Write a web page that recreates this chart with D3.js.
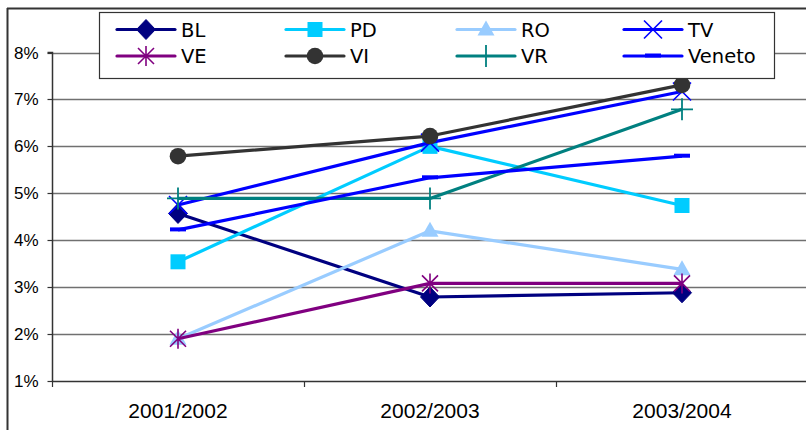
<!DOCTYPE html>
<html>
<head>
<meta charset="utf-8">
<script src="https://cdn.jsdelivr.net/npm/d3@7"></script>
<style>
  html, body { margin: 0; padding: 0; background: #fff; }
  svg { display: block; }
</style>
</head>
<body>
<svg id="chart" width="806" height="430"></svg>
<script>
const categories = ["2001/2002", "2002/2003", "2003/2004"];
const seriesNames = ["BL", "PD", "RO", "TV", "VE", "VI", "VR", "Veneto"];
const BL = [4.57, 2.79, 2.88];
const PD = [3.54, 6.0, 4.74];
const RO = [1.9, 4.2, 3.38];
const TV = [4.75, 6.08, 7.17];
const VE = [1.9, 3.08, 3.08];
const VI = [5.79, 6.22, 7.31];
const VR = [4.89, 4.89, 6.79];
const Veneto = [4.22, 5.33, 5.79];
const yTicks = [1, 2, 3, 4, 5, 6, 7, 8];

const seriesValues = [BL, PD, RO, TV, VE, VI, VR, Veneto];
const colors = ["#000080", "#00CCFF", "#99CCFF", "#0000FF", "#800080", "#333333", "#008080", "#0000FF"];
const markers = ["diamond", "square", "triangle", "x", "star", "circle", "plus", "dash"];

const svg = d3.select("#chart");

const x = d3.scaleBand().domain(categories).range([52, 808]).padding(0);
const y = d3.scaleLinear().domain([1, 8]).range([381, 52.5]);
const cx = c => x(c) + x.bandwidth() / 2;

// outer chart border
svg.append("line").attr("x1", 7).attr("x2", 806).attr("y1", 8.5).attr("y2", 8.5)
  .attr("stroke", "#333").attr("stroke-width", 2);
svg.append("line").attr("x1", 7.5).attr("x2", 7.5).attr("y1", 8).attr("y2", 430)
  .attr("stroke", "#333").attr("stroke-width", 2);

// gridlines
svg.append("g").selectAll("line").data(yTicks.filter(t => t > 1)).join("line")
  .attr("x1", 52).attr("x2", 806)
  .attr("y1", d => Math.round(y(d)) + 0.5).attr("y2", d => Math.round(y(d)) + 0.5)
  .attr("stroke", "#707070").attr("stroke-width", 1.3);

// y axis
const yAxis = d3.axisLeft(y).tickValues(yTicks).tickSize(5).tickPadding(9)
  .tickFormat(d => d + "%");
const gy = svg.append("g").attr("transform", "translate(52.5,0)").call(yAxis);
gy.select(".domain").attr("stroke", "#333").attr("stroke-width", 1.5).attr("d", `M-5,${y(8)}H0V${y(1)}`);
gy.selectAll(".tick line").attr("stroke", "#333").attr("stroke-width", 1.2);
gy.selectAll(".tick text").attr("font-family", "Liberation Sans, Arial, sans-serif")
  .attr("font-size", 17).attr("fill", "#000");
gy.selectAll(".tick").attr("transform", d => `translate(0,${Math.round(y(d)) + 0.5})`);

// x axis
const xAxis = d3.axisBottom(x).tickSize(0).tickPadding(22);
const gx = svg.append("g").attr("transform", `translate(0,${Math.round(y(1)) + 0.5})`).call(xAxis);
gx.select(".domain").attr("stroke", "#333").attr("stroke-width", 1.5).attr("d", "M52,0H806");
gx.selectAll(".tick text").attr("font-family", "Liberation Sans, Arial, sans-serif")
  .attr("font-size", 21).attr("fill", "#000");
// category boundary ticks
svg.append("g").selectAll("line").data(categories).join("line")
  .attr("x1", d => Math.round(x(d)) + 0.5).attr("x2", d => Math.round(x(d)) + 0.5)
  .attr("y1", Math.round(y(1))).attr("y2", Math.round(y(1)) + 6)
  .attr("stroke", "#333").attr("stroke-width", 1.2);

// marker drawing
function drawMarker(g, type, color, px, py) {
  switch (type) {
    case "diamond":
      g.append("path").attr("d", `M${px},${py - 10}L${px + 9.5},${py}L${px},${py + 10}L${px - 9.5},${py}Z`)
        .attr("fill", color).attr("stroke", color).attr("stroke-width", 1);
      break;
    case "square":
      g.append("rect").attr("x", px - 7.5).attr("y", py - 7.5).attr("width", 15).attr("height", 15)
        .attr("fill", color);
      break;
    case "triangle":
      g.append("path").attr("d", `M${px},${py - 9}L${px + 8.5},${py + 6}L${px - 8.5},${py + 6}Z`)
        .attr("fill", color);
      break;
    case "x":
      g.append("path").attr("d", `M${px - 9},${py - 9}L${px + 9},${py + 9}M${px - 9},${py + 9}L${px + 9},${py - 9}`)
        .attr("stroke", color).attr("stroke-width", 1.6).attr("fill", "none");
      break;
    case "star":
      g.append("path").attr("d", `M${px - 8},${py - 8}L${px + 8},${py + 8}M${px - 8},${py + 8}L${px + 8},${py - 8}M${px},${py - 10}L${px},${py + 10}`)
        .attr("stroke", color).attr("stroke-width", 1.6).attr("fill", "none");
      break;
    case "circle":
      g.append("circle").attr("cx", px).attr("cy", py).attr("r", 8.3).attr("fill", color);
      break;
    case "plus":
      g.append("path").attr("d", `M${px - 11},${py}L${px + 11},${py}M${px},${py - 11}L${px},${py + 11}`)
        .attr("stroke", color).attr("stroke-width", 1.8).attr("fill", "none");
      break;
    case "dash":
      g.append("rect").attr("x", px - 8).attr("y", py - 2.5).attr("width", 16).attr("height", 4)
        .attr("fill", color);
      break;
  }
}

// series
const line = d3.line().x((d, i) => cx(categories[i])).y(d => y(d));
seriesNames.forEach((name, s) => {
  const g = svg.append("g").attr("class", "series");
  g.append("path").datum(seriesValues[s]).attr("d", line)
    .attr("fill", "none").attr("stroke", colors[s]).attr("stroke-width", 3.2)
    .attr("stroke-linejoin", "round");
  seriesValues[s].forEach((v, i) => drawMarker(g, markers[s], colors[s], cx(categories[i]), y(v)));
});

// legend
const legend = svg.append("g");
legend.append("rect").attr("x", 99.5).attr("y", 12.5).attr("width", 675).attr("height", 66)
  .attr("fill", "#fff").attr("stroke", "#333").attr("stroke-width", 1.2);
const colX = [117, 286, 457, 624];
const rowY = [29.5, 56];
seriesNames.forEach((name, s) => {
  const lx = colX[s % 4], ly = rowY[Math.floor(s / 4)];
  const g = legend.append("g");
  g.append("line").attr("x1", lx).attr("x2", lx + 58).attr("y1", ly).attr("y2", ly)
    .attr("stroke", colors[s]).attr("stroke-width", 3.2).attr("stroke-linecap", "round");
  drawMarker(g, markers[s], colors[s], lx + 29, ly);
  g.append("text").attr("x", lx + 64).attr("y", ly).attr("dy", "0.36em")
    .attr("font-family", "DejaVu Sans, sans-serif").attr("font-size", 19.5).attr("fill", "#000")
    .text(name);
});
</script>
</body>
</html>
